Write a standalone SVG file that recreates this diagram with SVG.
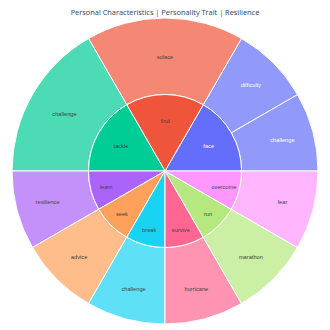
<svg xmlns="http://www.w3.org/2000/svg" width="330" height="330" viewBox="0 0 330 330">
<style>
.sec{stroke:#ffffff;stroke-width:1}
.leaf{fill-opacity:0.7}
.lbl{font-family:"Liberation Sans",Arial,sans-serif;font-size:5.7px;fill:#444444;text-anchor:middle}
.w{fill:#ffffff}
.title{font-family:"Open Sans","Liberation Sans",Arial,sans-serif;font-size:7.4px;fill:#2a3f5f;text-anchor:middle}
</style>
<rect width="330" height="330" fill="#ffffff"/>
<text class="title" x="165" y="15">Personal Characteristics | Personality Trait | Resilience</text>

<!-- outer ring (leaves) -->
<g id="face-challenge"><path class="sec leaf" fill="#636efa" d="M318,171 A153,153 0 0 0 297.5,94.5 L231.25,132.75 A76.5,76.5 0 0 1 241.5,171 Z"/><text class="lbl w" x="282.4" y="141.6">challenge</text></g>
<g id="face-difficulty"><path class="sec leaf" fill="#636efa" d="M297.5,94.5 A153,153 0 0 0 241.5,38.5 L203.25,104.75 A76.5,76.5 0 0 1 231.25,132.75 Z"/><text class="lbl w" x="250.9" y="87.1">difficulty</text></g>
<g id="find-solace"><path class="sec leaf" fill="#EF553B" d="M241.5,38.5 A153,153 0 0 0 88.5,38.5 L126.75,104.75 A76.5,76.5 0 0 1 203.25,104.75 Z"/><text class="lbl" x="165" y="58.5">solace</text></g>
<g id="tackle-challenge"><path class="sec leaf" fill="#00cc96" d="M88.5,38.5 A153,153 0 0 0 12,171 L88.5,171 A76.5,76.5 0 0 1 126.75,104.75 Z"/><text class="lbl" x="64.5" y="116">challenge</text></g>
<g id="learn-resilience"><path class="sec leaf" fill="#ab63fa" d="M12,171 A153,153 0 0 0 32.5,247.5 L98.75,209.25 A76.5,76.5 0 0 1 88.5,171 Z"/><text class="lbl" x="47.6" y="204.4">resilience</text></g>
<g id="seek-advice"><path class="sec leaf" fill="#FFA15A" d="M32.5,247.5 A153,153 0 0 0 88.5,303.5 L126.75,237.25 A76.5,76.5 0 0 1 98.75,209.25 Z"/><text class="lbl" x="79.1" y="258.9">advice</text></g>
<g id="break-challenge"><path class="sec leaf" fill="#19d3f3" d="M88.5,303.5 A153,153 0 0 0 165,324 L165,247.5 A76.5,76.5 0 0 1 126.75,237.25 Z"/><text class="lbl" x="133.6" y="290.6">challenge</text></g>
<g id="survive-hurricane"><path class="sec leaf" fill="#FF6692" d="M165,324 A153,153 0 0 0 241.5,303.5 L203.25,237.25 A76.5,76.5 0 0 1 165,247.5 Z"/><text class="lbl" x="196.4" y="290.6">hurricane</text></g>
<g id="run-marathon"><path class="sec leaf" fill="#B6E880" d="M241.5,303.5 A153,153 0 0 0 297.5,247.5 L231.25,209.25 A76.5,76.5 0 0 1 203.25,237.25 Z"/><text class="lbl" x="250.9" y="258.9">marathon</text></g>
<g id="overcome-fear"><path class="sec leaf" fill="#FF97FF" d="M297.5,247.5 A153,153 0 0 0 318,171 L241.5,171 A76.5,76.5 0 0 1 231.25,209.25 Z"/><text class="lbl" x="282.4" y="204.4">fear</text></g>

<!-- inner ring -->
<g id="face"><path class="sec" fill="#636efa" d="M165,171 L241.5,171 A76.5,76.5 0 0 0 203.25,104.75 Z"/><text class="lbl w" x="208.7" y="147.8">face</text></g>
<g id="find"><path class="sec" fill="#EF553B" d="M165,171 L203.25,104.75 A76.5,76.5 0 0 0 126.75,104.75 Z"/><text class="lbl" x="165" y="122.6">find</text></g>
<g id="tackle"><path class="sec" fill="#00cc96" d="M165,171 L126.75,104.75 A76.5,76.5 0 0 0 88.5,171 Z"/><text class="lbl" x="121" y="147.8">tackle</text></g>
<g id="learn"><path class="sec" fill="#ab63fa" d="M165,171 L88.5,171 A76.5,76.5 0 0 0 98.75,209.25 Z"/><text class="lbl" x="106.1" y="189">learn</text></g>
<g id="seek"><path class="sec" fill="#FFA15A" d="M165,171 L98.75,209.25 A76.5,76.5 0 0 0 126.75,237.25 Z"/><text class="lbl" x="121.9" y="216.2">seek</text></g>
<g id="break"><path class="sec" fill="#19d3f3" d="M165,171 L126.75,237.25 A76.5,76.5 0 0 0 165,247.5 Z"/><text class="lbl" x="149.2" y="232">break</text></g>
<g id="survive"><path class="sec" fill="#FF6692" d="M165,171 L165,247.5 A76.5,76.5 0 0 0 203.25,237.25 Z"/><text class="lbl" x="180.8" y="232">survive</text></g>
<g id="run"><path class="sec" fill="#B6E880" d="M165,171 L203.25,237.25 A76.5,76.5 0 0 0 231.25,209.25 Z"/><text class="lbl" x="208.1" y="216.2">run</text></g>
<g id="overcome"><path class="sec" fill="#FF97FF" d="M165,171 L231.25,209.25 A76.5,76.5 0 0 0 241.5,171 Z"/><text class="lbl" x="223.9" y="189">overcome</text></g>
</svg>
